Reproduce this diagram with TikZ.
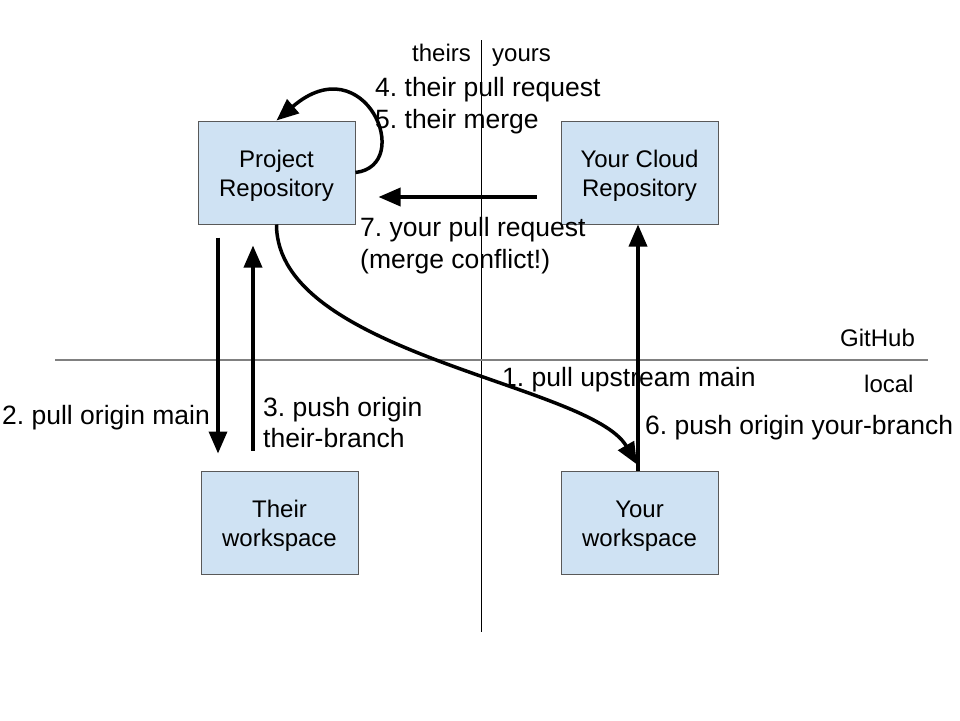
\documentclass[tikz,border=0pt]{standalone}
\usepackage{fontspec}
\setmainfont{Liberation Sans}
\usepackage[rgb]{xcolor}
\usetikzlibrary{arrows.meta}
\frenchspacing

\definecolor{boxblue}{HTML}{CFE2F3}
\definecolor{boxline}{HTML}{595959}

% lowers the two lines of a box a little
\newcommand{\boxlift}{\rule{0pt}{23pt}}

\tikzset{
  repobox/.style = {draw = boxline, fill = boxblue, line width = 1pt,
    minimum width = 157pt, minimum height = 103pt, align = center,
    font = \fontsize{24}{29}\selectfont},
  flow/.style = {line width = 3.5pt, -{Triangle[length=22pt, width=18pt]}},
  biglabel/.style = {inner sep = 0pt, anchor = base west, align = left,
    font = \fontsize{26.5}{31.5}\selectfont},
  smalllabel/.style = {inner sep = 0pt, anchor = base west,
    font = \fontsize{24}{29}\selectfont}
}

\begin{document}
\begin{tikzpicture}[x=1pt, y=-1pt]
\useasboundingbox (0,0) rectangle (960,720);

% the two separating lines: theirs / yours and GitHub / local
\draw [line width = 1pt] (481,40) coordinate (splittop) -- (481,632) coordinate (splitbottom);
\draw [line width = 1.2pt, gray] (55,360) coordinate (siteleft) -- (928,360) coordinate (siteright);

\path
(412,61.6) node [smalllabel] (theirs) {theirs}
(492,61.6) node [smalllabel] (yours) {yours}
(840,346.6) node [smalllabel] (github) {GitHub}
(864,392.6) node [smalllabel] (local) {local};

% the four places
\path
(276.5,172.5) node [repobox] (project) {\boxlift Project\\Repository}
(639.5,172.5) node [repobox] (cloud) {\boxlift Your Cloud\\Repository}
(279.5,522.5) node [repobox] (theirws) {\boxlift Their\\workspace}
(639.5,522.5) node [repobox] (yourws) {\boxlift Your\\workspace};

% 1. pull upstream main
\draw [flow] (project.south) .. controls +(0,130) and +(-47,-81) .. ([xshift=-2.5pt, yshift=6pt]yourws.north);
\path (502,386.5) node [biglabel] (pullupstream) {1. pull upstream main};

% 2. and 3. their side (multi-line labels sit on their last baseline)
\draw [flow, shorten <= 13pt, shorten >= 17pt]
  ([xshift=-58.5pt]project.south) -- ([xshift=-58.5pt]project.south |- theirws.north);
\path (2,424.5) node [biglabel] (pullorigin) {2. pull origin main};

\draw [flow, shorten <= 20pt, shorten >= 21pt]
  ([xshift=-26.5pt]theirws.north) -- ([xshift=-26.5pt]theirws.north |- project.south);
\path (263,447.5) node [biglabel] (pushtheirs) {3. push origin\\their-branch};

% 4. and 5. loop back into the project
\draw [flow] (project.east) .. controls +(60,-7) and +(88.5,-76) .. (project.north);
\path (375,128) node [biglabel] (theirpr) {4. their pull request\\5. their merge};

% 6. push origin your-branch
\draw [flow] ([xshift=-1.5pt]yourws.north) -- ([xshift=-1.5pt]cloud.south);
\path (645,434) node [biglabel] (pushyours) {6. push origin your-branch};

% 7. your pull request
\draw [flow, shorten <= 24pt, shorten >= 23pt]
  ([yshift=-24.5pt]cloud.west) -- ([yshift=-24.5pt]project.east);
\path (360,268) node [biglabel] (yourpr) {7. your pull request\\(merge conflict!)};

\end{tikzpicture}
\end{document}
